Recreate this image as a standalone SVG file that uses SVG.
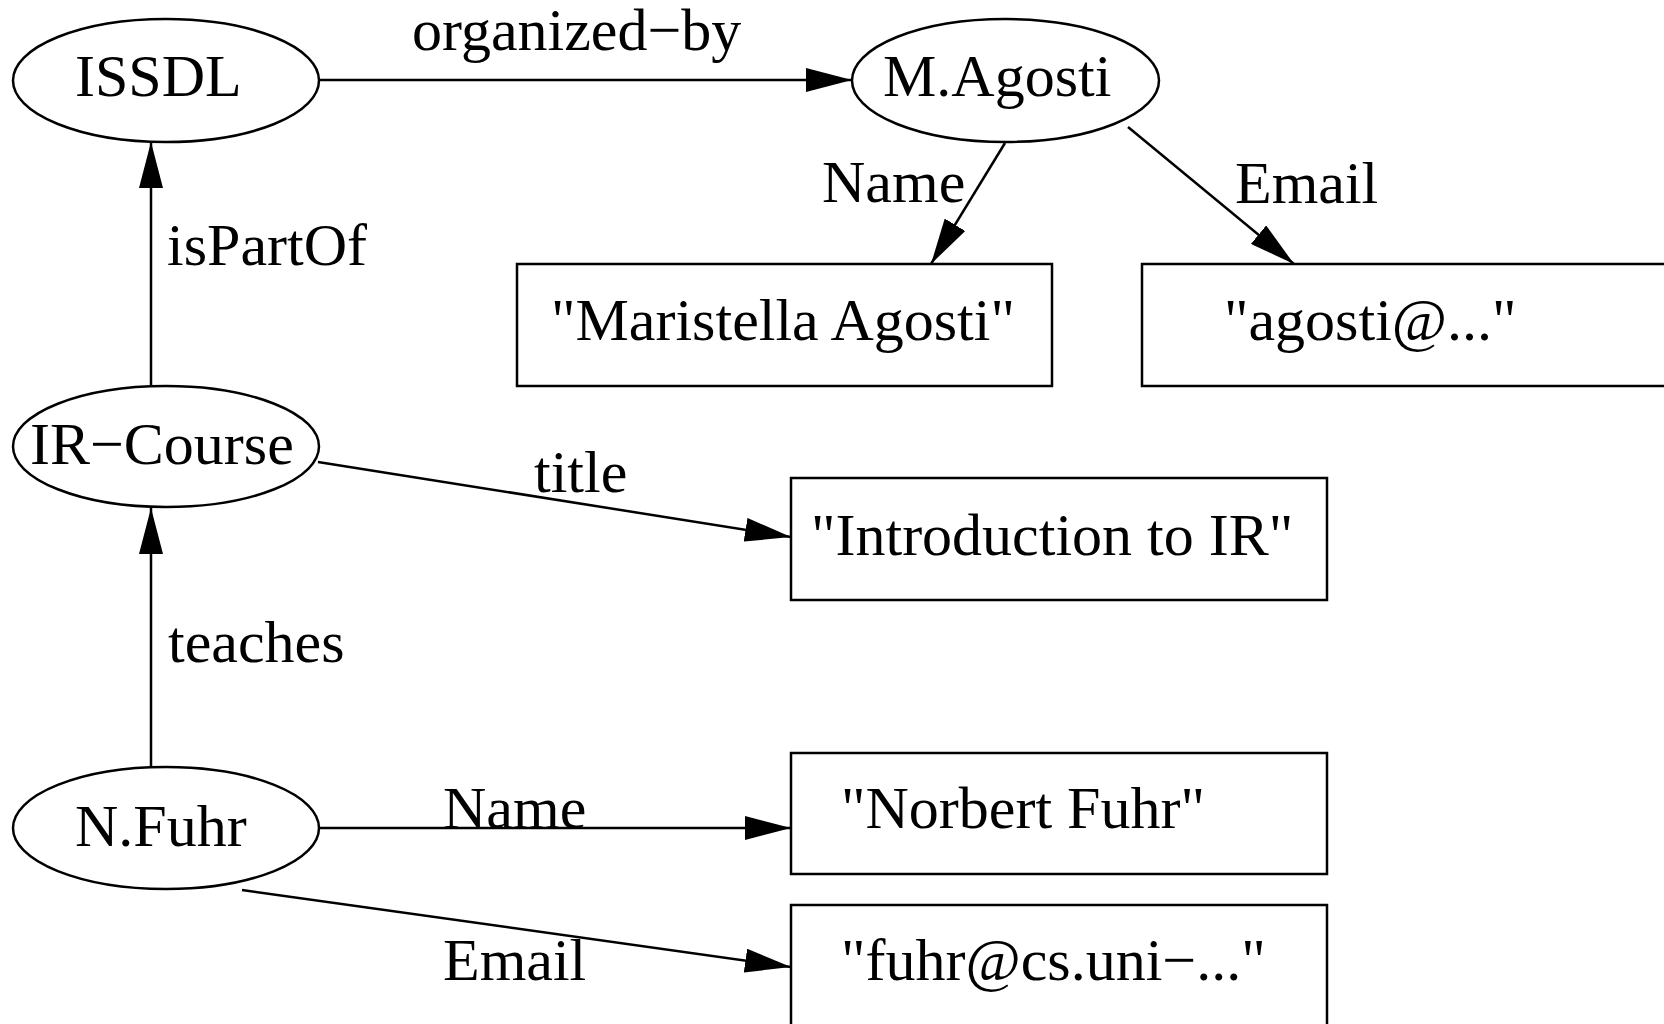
<svg xmlns="http://www.w3.org/2000/svg" width="1664" height="1024" viewBox="0 0 1664 1024">
<style>
.n{fill:#fff;stroke:#000;stroke-width:2.5}
.t{font-family:"Liberation Serif","Times New Roman",serif;font-size:60px;fill:#000}
.e{stroke:#000;stroke-width:2.5;fill:none;marker-end:url(#ah)}
</style>
<defs>
<marker id="ah" markerUnits="userSpaceOnUse" markerWidth="46" markerHeight="24" refX="46" refY="12" orient="auto">
<path d="M0,0 L46,12 L0,24 z" fill="#000"/>
</marker>
</defs>
<rect width="1664" height="1024" fill="#fff"/>
<g id="connectors">
<line class="e" x1="319" y1="80" x2="852" y2="80"/>
<line class="e" x1="151" y1="386" x2="151" y2="142"/>
<line class="e" x1="151" y1="767" x2="151" y2="508"/>
<line class="e" x1="1005" y1="143" x2="931" y2="264"/>
<line class="e" x1="1128" y1="127" x2="1294" y2="264"/>
<line class="e" x1="318" y1="462" x2="791" y2="537"/>
<line class="e" x1="319" y1="828" x2="791" y2="828"/>
<line class="e" x1="242" y1="890" x2="791" y2="967"/>
<text class="t" x="412" y="50">organized−by</text>
<text class="t" x="167" y="265">isPartOf</text>
<text class="t" x="822" y="202">Name</text>
<text class="t" x="1235" y="203">Email</text>
<text class="t" x="534" y="492">title</text>
<text class="t" x="168" y="662">teaches</text>
<text class="t" x="443" y="828">Name</text>
<text class="t" x="443" y="980">Email</text>
</g>
<g id="ISSDL"><ellipse class="n" cx="166" cy="80.5" rx="153" ry="61.5"/><text class="t" x="75" y="96">ISSDL</text></g>
<g id="MAgosti"><ellipse class="n" cx="1005.5" cy="80.5" rx="153.5" ry="61.5"/><text class="t" x="883" y="96">M.Agosti</text></g>
<g id="IRCourse"><ellipse class="n" cx="166" cy="446.5" rx="153" ry="60.5"/><text class="t" x="30" y="464">IR−Course</text></g>
<g id="NFuhr"><ellipse class="n" cx="166" cy="828" rx="153" ry="61"/><text class="t" x="75" y="846">N.Fuhr</text></g>
<g id="MaristellaAgosti"><rect class="n" x="517" y="264" width="535" height="122"/><text class="t" x="551" y="340">"Maristella Agosti"</text></g>
<g id="agostiEmail"><rect class="n" x="1142" y="264" width="560" height="122"/><text class="t" x="1224" y="340">"agosti@..."</text></g>
<g id="IntroIR"><rect class="n" x="791" y="478" width="536" height="122"/><text class="t" x="811" y="555">"Introduction to IR"</text></g>
<g id="NorbertFuhr"><rect class="n" x="791" y="753" width="536" height="121"/><text class="t" x="841" y="828">"Norbert Fuhr"</text></g>
<g id="fuhrEmail"><rect class="n" x="791" y="905" width="536" height="150"/><text class="t" x="841" y="980">"fuhr@cs.uni−..."</text></g>
</svg>
